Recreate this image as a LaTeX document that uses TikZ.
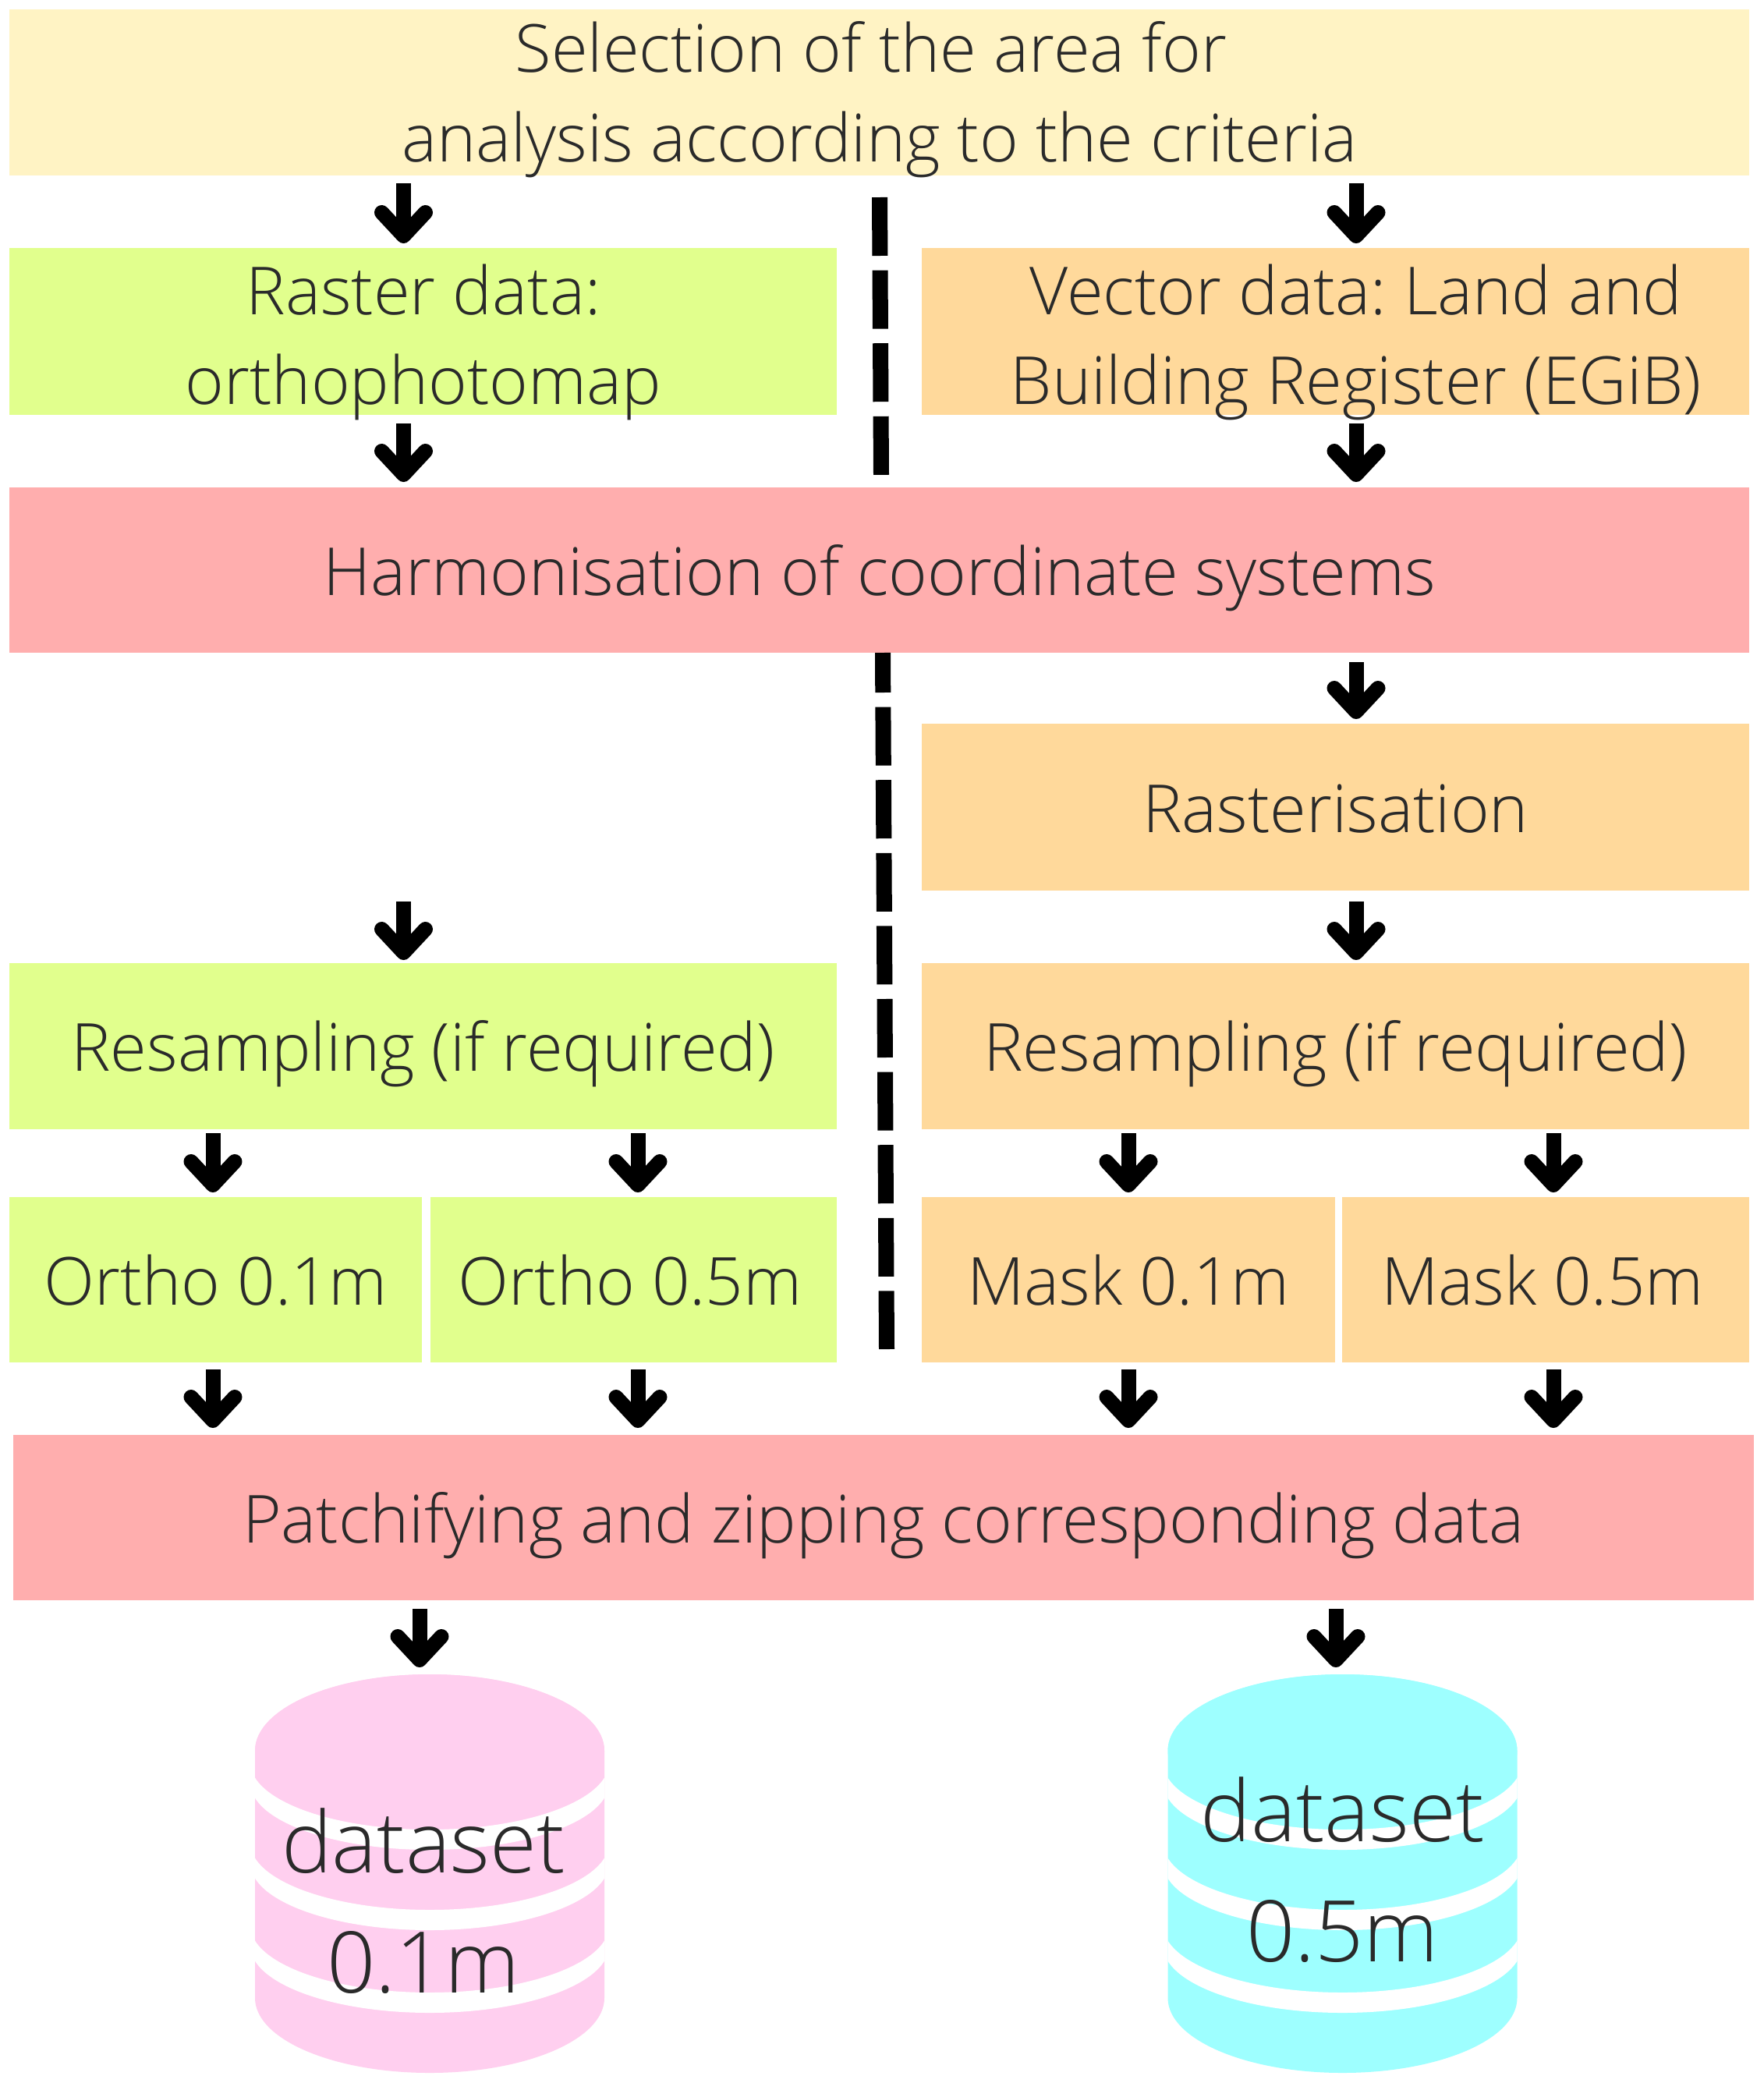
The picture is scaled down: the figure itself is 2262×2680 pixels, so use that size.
\documentclass[tikz,border=0pt]{standalone}
\usepackage{fontspec}
\setmainfont{Open Sans Light}
\usetikzlibrary{arrows.meta,calc}
\frenchspacing
\definecolor{cTop}{HTML}{FFF3C4}
\definecolor{cGreen}{HTML}{E1FF8D}
\definecolor{cOrange}{HTML}{FFD99B}
\definecolor{cRed}{HTML}{FFAEAE}
\definecolor{cPink}{HTML}{FFCFEF}
\definecolor{cCyan}{HTML}{9EFFFF}
\definecolor{cText}{HTML}{2A2A2A}
\tikzset{
  x=1pt,y=-1pt,
  bx/.style={inner sep=0pt,outer sep=0pt,align=center,text=cText,text height=64pt,text depth=0pt,font=\fontsize{85}{115}\selectfont\frenchspacing},
  lbl/.style={inner sep=0pt,outer sep=0pt,align=center,text=cText,anchor=base,font=\fontsize{85}{115}\selectfont\frenchspacing},
  big/.style={inner sep=0pt,outer sep=0pt,align=center,text=cText,anchor=base,font=\fontsize{109}{154}\selectfont},
  arr/.style={line width=19pt,black,-{Straight Barb[round,length=30pt,width=56pt]}},
  sep/.style={line width=20pt,black,dash pattern=on 75pt off 18.6pt},
}
\newcommand{\cylband}[2]{\fill[white] (#1-230,#2-13) arc[start angle=180,end angle=360,x radius=230pt,y radius=86pt] -- ++(0,26) arc[start angle=0,end angle=-180,x radius=230pt,y radius=86pt] -- cycle;}
\newcommand{\cyl}[2]{%
  \begin{scope}
    \clip (#1-224,2245) arc[start angle=180,end angle=0,x radius=224pt,y radius=98pt] -- (#1+224,2562) arc[start angle=0,end angle=-180,x radius=224pt,y radius=96pt] -- cycle;
    \fill[#2] (#1-230,2140) rectangle (#1+230,2665);
    \cylband{#1}{2273}
    \cylband{#1}{2376}
    \cylband{#1}{2482}
  \end{scope}
  \fill[#2] (#1,2245) ellipse[x radius=224pt,y radius=98pt];
}
\begin{document}
\begin{tikzpicture}
\useasboundingbox (0,0) rectangle (2262,2680);
\fill[white] (0,0) rectangle (2262,2680);
\coordinate (colA) at (517.5,0);
\coordinate (colB) at (1739,0);
\coordinate (colC) at (273,0);
\coordinate (colD) at (818,0);
\coordinate (colE) at (1447,0);
\coordinate (colF) at (1992,0);
\coordinate (colG) at (538,0);
\coordinate (colH) at (1713,0);
% boxes
\node[bx,fill=cTop,minimum width=2231pt,minimum height=213pt] (top) at (1127.5,118.5) {};
\node[lbl] (topText) at (1128,207) {Selection of the area for\hspace*{22pt}\\analysis according to the criteria};
\node[bx,fill=cGreen,minimum width=1061pt,minimum height=214pt] (raster) at (542.5,425) {};
\node[lbl] (rasterText) at (543,518) {Raster data:\\orthophotomap};
\node[bx,fill=cOrange,minimum width=1061pt,minimum height=214pt] (vector) at (1712.5,425) {};
\node[lbl] (vectorText) at (1739,518) {Vector data: Land and\\Building Register (EGiB)};
\node[bx,fill=cRed,minimum width=2231pt,minimum height=212pt] (harm) at (1127.5,731) {Harmonisation of coordinate systems};
\node[bx,fill=cOrange,minimum width=1061pt,minimum height=214pt] (rast) at (1712.5,1035) {Rasterisation};
\node[bx,fill=cGreen,minimum width=1061pt,minimum height=213pt] (resG) at (542.5,1341.5) {Resampling (if required)};
\node[bx,fill=cOrange,minimum width=1061pt,minimum height=213pt] (resO) at (1712.5,1341.5) {Resampling (if required)};
\node[bx,fill=cGreen,minimum width=529pt,minimum height=212pt] (o1) at (276.5,1641) {Ortho 0.1m};
\node[bx,fill=cGreen,minimum width=521pt,minimum height=212pt] (o5) at (812.5,1641) {};
\node[bx] (o5Text) at (808,1641) {Ortho 0.5m};
\node[bx,fill=cOrange,minimum width=530pt,minimum height=212pt] (m1) at (1447,1641) {Mask 0.1m};
\node[bx,fill=cOrange,minimum width=522pt,minimum height=212pt] (m5) at (1982,1641) {};
\node[bx] (m5Text) at (1978,1641) {Mask 0.5m};
\node[bx,fill=cRed,minimum width=2232pt,minimum height=212pt] (patch) at (1133,1946) {Patchifying and zipping corresponding data};
% separator
\coordinate (sepA) at (1128,253);
\coordinate (sepB) at (1130,609);
\coordinate (sepC) at (1132,837);
\coordinate (sepD) at (1137,1730);
\draw[sep] (sepA) -- (sepB);
\draw[sep,dash phase=24pt] (sepC) -- (sepD);
% cylinders
\cyl{551}{cPink}
\cyl{1721.5}{cCyan}
\coordinate (cylA) at (551,2147);
\coordinate (cylB) at (1721.5,2147);
\node[big] (ds1) at (543,2555) {dataset\\0.1m};
\node[big] (ds5) at (1721.5,2515) {dataset\\0.5m};
% arrows
\draw[arr] ([yshift=-10pt]top.south -| colA) -- ([yshift=6pt]raster.north -| colA);
\draw[arr] ([yshift=-10pt]top.south -| colB) -- ([yshift=6pt]vector.north -| colB);
\draw[arr] ([yshift=-11pt]raster.south -| colA) -- ([yshift=7pt]harm.north -| colA);
\draw[arr] ([yshift=-11pt]vector.south -| colB) -- ([yshift=7pt]harm.north -| colB);
\draw[arr] ([yshift=-12pt]harm.south -| colB) -- ([yshift=6pt]rast.north -| colB);
\draw[arr] ([yshift=-14pt]rast.south -| colB) -- ([yshift=4pt]resO.north -| colB);
\coordinate (freeA) at ($(resG.north -| colA)+(0,-79)$);
\draw[arr] (freeA) -- ([yshift=4pt]resG.north -| colA);
\draw[arr] ([yshift=-5pt]resG.south -| colC) -- ([yshift=6pt]o1.north -| colC);
\draw[arr] ([yshift=-5pt]resG.south -| colD) -- ([yshift=6pt]o5.north -| colD);
\draw[arr] ([yshift=-5pt]resO.south -| colE) -- ([yshift=6pt]m1.north -| colE);
\draw[arr] ([yshift=-5pt]resO.south -| colF) -- ([yshift=6pt]m5.north -| colF);
\draw[arr] ([yshift=-9pt]o1.south -| colC) -- ([yshift=9pt]patch.north -| colC);
\draw[arr] ([yshift=-9pt]o5.south -| colD) -- ([yshift=9pt]patch.north -| colD);
\draw[arr] ([yshift=-9pt]m1.south -| colE) -- ([yshift=9pt]patch.north -| colE);
\draw[arr] ([yshift=-9pt]m5.south -| colF) -- ([yshift=9pt]patch.north -| colF);
\draw[arr] ([yshift=-11pt]patch.south -| colG) -- ([yshift=9pt]cylA -| colG);
\draw[arr] ([yshift=-11pt]patch.south -| colH) -- ([yshift=9pt]cylB -| colH);
\end{tikzpicture}
\end{document}
